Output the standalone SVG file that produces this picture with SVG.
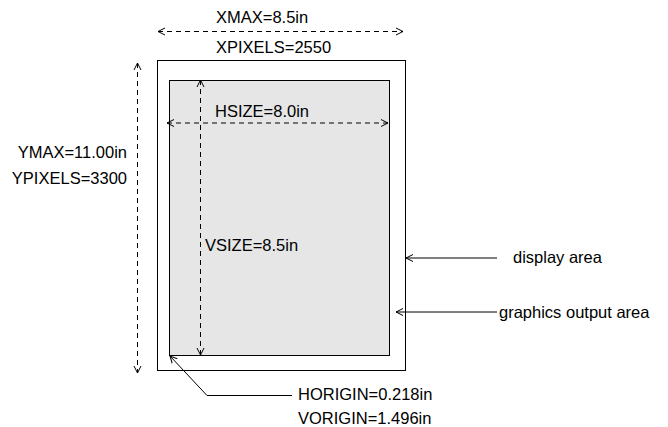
<svg xmlns="http://www.w3.org/2000/svg" width="668" height="427" viewBox="0 0 668 427">
<style>
text{font-family:"Liberation Sans",Arial,sans-serif;font-size:16.5px;fill:#000}
.dash{fill:none;stroke:#000;stroke-width:1;stroke-dasharray:5,4}
.solid{fill:none;stroke:#000;stroke-width:1}
</style>
<defs>
<marker id="ah" markerUnits="userSpaceOnUse" markerWidth="12" markerHeight="12" refX="7" refY="6" orient="auto-start-reverse" viewBox="0 0 12 12">
<path d="M0,2.5 L7,6 L0,9.5" fill="none" stroke="#000" stroke-width="1"/>
</marker>
</defs>
<g id="display-area">
<rect x="157.5" y="60.5" width="248" height="310" fill="#fff" stroke="#000" stroke-width="1"/>
</g>
<g id="graphics-output-area">
<rect x="169.5" y="80.5" width="220" height="275" fill="#e6e6e6" stroke="#000" stroke-width="1"/>
</g>
<g id="connectors">
<line class="dash" x1="158" y1="31.5" x2="403" y2="31.5" marker-start="url(#ah)" marker-end="url(#ah)"/>
<line class="dash" x1="137.5" y1="63" x2="137.5" y2="373" marker-start="url(#ah)" marker-end="url(#ah)"/>
<line class="dash" x1="167" y1="123" x2="388" y2="123" marker-start="url(#ah)" marker-end="url(#ah)"/>
<line class="dash" x1="200.5" y1="80" x2="200.5" y2="355" marker-start="url(#ah)" marker-end="url(#ah)"/>
<line class="solid" x1="497" y1="258" x2="406" y2="258" marker-end="url(#ah)"/>
<line class="solid" x1="497" y1="312" x2="396" y2="312" marker-end="url(#ah)"/>
<polyline class="solid" points="292,395.5 207,395.5 170,356" marker-end="url(#ah)"/>
</g>
<g id="labels">
<text x="216" y="23">XMAX=8.5in</text>
<text x="216" y="53">XPIXELS=2550</text>
<text x="127" y="158" text-anchor="end">YMAX=11.00in</text>
<text x="127" y="184" text-anchor="end">YPIXELS=3300</text>
<text x="215" y="117">HSIZE=8.0in</text>
<text x="205" y="251">VSIZE=8.5in</text>
<text x="513" y="263">display area</text>
<text x="499" y="318">graphics output area</text>
<text x="298" y="400">HORIGIN=0.218in</text>
<text x="298" y="424">VORIGIN=1.496in</text>
</g>
</svg>
